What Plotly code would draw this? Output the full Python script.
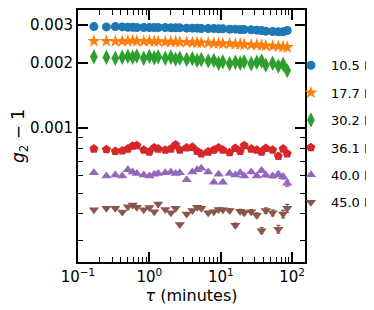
import plotly.graph_objects as go

# lag time tau (minutes)
tau_min = [0.167, 0.25, 0.333, 0.417, 0.5, 0.583, 0.667, 0.833, 1.0, 1.17,
           1.33, 1.67, 2.0, 2.33, 2.67, 3.33, 4.0, 4.67, 5.33, 6.67,
           8.0, 9.33, 10.7, 13.3, 16.0, 18.7, 21.3, 26.7, 32.0, 37.3,
           42.7, 53.3, 64.0, 74.7, 85.3]

# g2 - 1 values (in units of 1e-3)
g_10p5 = [2.94, 2.93, 2.94, 2.93, 2.92, 2.92, 2.91, 2.91, 2.91, 2.91,
          2.91, 2.91, 2.90, 2.90, 2.90, 2.89, 2.89, 2.89, 2.88, 2.88,
          2.88, 2.87, 2.87, 2.86, 2.86, 2.85, 2.85, 2.84, 2.83, 2.82,
          2.80, 2.79, 2.78, 2.78, 2.82]
g_17p7 = [2.52, 2.52, 2.51, 2.52, 2.52, 2.53, 2.52, 2.51, 2.52, 2.51,
          2.51, 2.50, 2.50, 2.50, 2.49, 2.49, 2.48, 2.48, 2.47, 2.47,
          2.46, 2.46, 2.45, 2.45, 2.44, 2.44, 2.43, 2.42, 2.42, 2.41,
          2.40, 2.39, 2.38, 2.37, 2.36]
g_30p2 = [2.13, 2.12, 2.10, 2.12, 2.14, 2.12, 2.15, 2.10, 2.14, 2.11,
          2.13, 2.10, 2.12, 2.08, 2.10, 2.07, 2.09, 2.05, 2.07, 2.04,
          2.05, 1.99, 2.02, 1.98, 2.01, 1.99, 2.02, 1.98, 2.01, 2.04,
          1.95, 1.99, 1.93, 1.97, 1.84]
g_36p1 = [0.800, 0.795, 0.780, 0.785, 0.800, 0.825, 0.830, 0.790, 0.775, 0.810,
          0.800, 0.790, 0.800, 0.835, 0.790, 0.810, 0.815, 0.780, 0.760, 0.775,
          0.790, 0.810, 0.790, 0.770, 0.805, 0.780, 0.830, 0.800, 0.790, 0.775,
          0.805, 0.790, 0.740, 0.800, 0.760]
g_40p0 = [0.620, 0.600, 0.605, 0.600, 0.640, 0.625, 0.615, 0.605, 0.600, 0.610,
          0.615, 0.620, 0.625, 0.615, 0.620, 0.575, 0.625, 0.640, 0.650, 0.625,
          0.560, 0.610, 0.560, 0.615, 0.605, 0.620, 0.600, 0.625, 0.600, 0.635,
          0.605, 0.600, 0.610, 0.595, 0.555]
g_45p0 = [0.418, 0.425, 0.425, 0.408, 0.432, 0.440, 0.430, 0.418, 0.428, 0.410,
          0.445, 0.420, 0.405, 0.425, 0.358, 0.400, 0.415, 0.430, 0.425, 0.405,
          0.410, 0.420, 0.418, 0.415, 0.355, 0.412, 0.405, 0.410, 0.395, 0.335,
          0.415, 0.405, 0.340, 0.400, 0.425]

# error bars (units of 1e-3)
err_small = [0.004, 0.004, 0.004, 0.004, 0.004, 0.004, 0.004, 0.004, 0.004, 0.005,
             0.005, 0.005, 0.005, 0.005, 0.005, 0.006, 0.006, 0.006, 0.006, 0.007,
             0.007, 0.007, 0.008, 0.008, 0.009, 0.009, 0.010, 0.010, 0.011, 0.012,
             0.013, 0.014, 0.016, 0.018, 0.020]
err_low = [0.003, 0.003, 0.003, 0.003, 0.003, 0.003, 0.003, 0.003, 0.003, 0.004,
           0.004, 0.004, 0.004, 0.004, 0.004, 0.005, 0.005, 0.005, 0.005, 0.006,
           0.006, 0.006, 0.007, 0.007, 0.008, 0.008, 0.009, 0.009, 0.010, 0.011,
           0.012, 0.013, 0.014, 0.016, 0.018]

labels = ["10.5 K", "17.7 K", "30.2 K", "36.1 K", "40.0 K", "45.0 K"]
series = [g_10p5, g_17p7, g_30p2, g_36p1, g_40p0, g_45p0]
errors = [err_small, err_small, err_small, err_low, err_low, err_low]
colors = ["#1f77b4", "#ff7f0e", "#2ca02c", "#d62728", "#9467bd", "#8c564b"]
symbols = ["circle", "star", "diamond-tall", "pentagon", "triangle-up", "triangle-down"]
sizes = [9, 10, 11, 9.5, 9, 9]

y_major = [0.001, 0.002, 0.003]
y_major_text = ["0.001", "0.002", "0.003"]
y_minor = [0.0003, 0.0004, 0.0005, 0.0006, 0.0007, 0.0008, 0.0009]
x_major = [0.1, 1, 10, 100]
x_major_text = ["10<sup>−1</sup>", "10<sup>0</sup>", "10<sup>1</sup>", "10<sup>2</sup>"]
x_minor = [0.2, 0.3, 0.4, 0.5, 0.6, 0.7, 0.8, 0.9,
           2, 3, 4, 5, 6, 7, 8, 9,
           20, 30, 40, 50, 60, 70, 80, 90]

fig = go.Figure()
for lab, ys, es, c, s, sz in zip(labels, series, errors, colors, symbols, sizes):
    fig.add_trace(go.Scatter(
        x=tau_min, y=[v * 1e-3 for v in ys],
        error_y=dict(type="data", array=[e * 1e-3 for e in es], color=c,
                     thickness=1.2, width=2),
        mode="markers", name=lab, legendgroup=lab,
        marker=dict(symbol=s, size=sz, color=c, line=dict(width=0)),
    ))

font = dict(family="DejaVu Sans", size=15, color="black")
axis_common = dict(
    showline=True, linewidth=2, linecolor="black", mirror="allticks",
    ticks="inside", ticklen=10, tickwidth=1.5, tickcolor="black",
    showgrid=False, zeroline=False, tickfont=font,
)
fig.update_layout(
    width=366, height=302,
    margin=dict(l=70, r=69, t=2, b=48, autoexpand=False),
    paper_bgcolor="white", plot_bgcolor="white",
    font=font,
    showlegend=True,
    legend=dict(x=0.938, y=0.84, xanchor="left", yanchor="top",
                font=dict(family="DejaVu Sans", size=13, color="black"),
                tracegroupgap=7.5, traceorder="grouped",
                bgcolor="rgba(0,0,0,0)", borderwidth=0),
    xaxis=dict(type="log", range=[-1, 2.18],
               tickvals=x_major, ticktext=x_major_text,
               title=dict(text="<i>τ</i> (minutes)", font=dict(family="DejaVu Sans", size=16), standoff=4),
               minor=dict(tickvals=x_minor, ticks="inside", ticklen=5, tickwidth=1.2, tickcolor="black"),
               **axis_common),
    yaxis=dict(type="log", range=[-3.62, -2.455],
               tickvals=y_major, ticktext=y_major_text,
               title=dict(text="<i>g</i><sub>2</sub> − 1", font=dict(family="DejaVu Sans", size=17), standoff=8),
               minor=dict(tickvals=y_minor, ticks="inside", ticklen=5, tickwidth=1.2, tickcolor="black"),
               **axis_common),
)
fig.write_html("out.html")
